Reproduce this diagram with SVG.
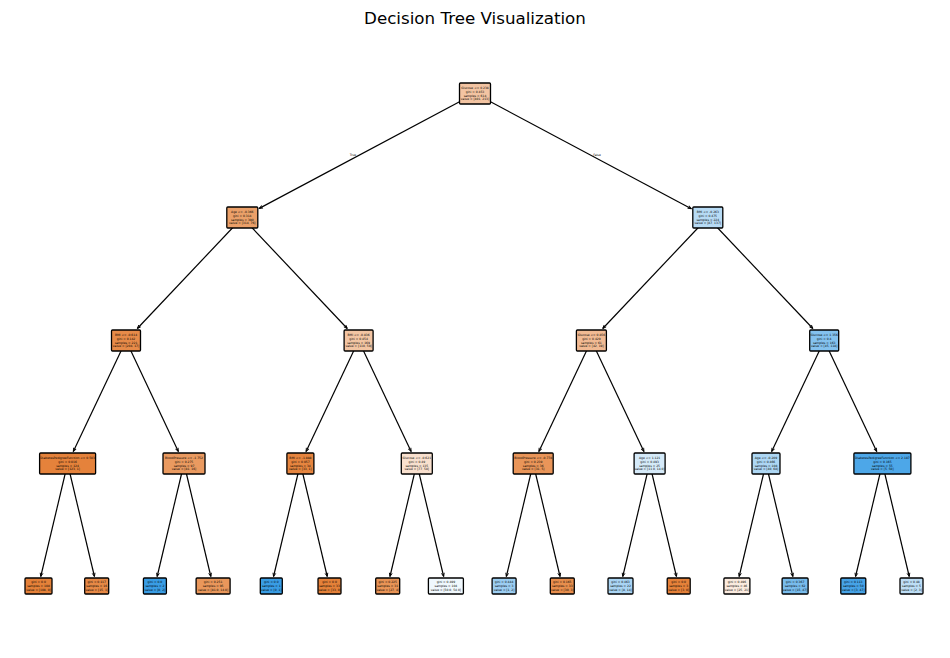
<svg xmlns="http://www.w3.org/2000/svg" width="950" height="658" viewBox="0 0 950 658">
<defs>
<marker id="ah" markerUnits="userSpaceOnUse" markerWidth="8" markerHeight="6" refX="0" refY="0" viewBox="-5 -3 6 6" orient="auto">
<path d="M-3.5,-1.4 L0,0 L-3.5,1.4" fill="none" stroke="#000" stroke-width="0.9"/>
</marker>
</defs>
<style>
.bg{fill:#ffffff}
.title{font-family:"DejaVu Sans","Liberation Sans",sans-serif;font-size:16.7px;fill:#000;text-anchor:middle}
.edge{stroke:#000;stroke-width:1.2;fill:none;marker-end:url(#ah)}
.box{stroke:#000;stroke-width:1.3}
.t{font-family:"DejaVu Sans","Liberation Sans",sans-serif;font-size:3px;fill:#000;text-anchor:middle}
.lbl{font-family:"DejaVu Sans","Liberation Sans",sans-serif;font-size:3px;fill:#000;text-anchor:middle}
</style>
<rect class="bg" x="0" y="0" width="950" height="658"/>
<text class="title" x="475" y="24">Decision Tree Visualization</text>

<g id="connectors">
<line class="edge" x1="475" y1="93.5" x2="259.3" y2="208.4"/>
<line class="edge" x1="475" y1="93.5" x2="691.3" y2="208.7"/>
<line class="edge" x1="242.3" y1="217.5" x2="137.35" y2="328.5"/>
<line class="edge" x1="242.3" y1="217.5" x2="347.25" y2="328.5"/>
<line class="edge" x1="707.8" y1="217.5" x2="602.76" y2="328.5"/>
<line class="edge" x1="707.8" y1="217.5" x2="812.84" y2="328.5"/>
<line class="edge" x1="126" y1="340.5" x2="73.3" y2="451.5"/>
<line class="edge" x1="126" y1="340.5" x2="178.34" y2="451.5"/>
<line class="edge" x1="358.6" y1="340.5" x2="306.08" y2="451.5"/>
<line class="edge" x1="358.6" y1="340.5" x2="411.12" y2="451.5"/>
<line class="edge" x1="591.4" y1="340.5" x2="538.88" y2="451.5"/>
<line class="edge" x1="591.4" y1="340.5" x2="643.92" y2="451.5"/>
<line class="edge" x1="824.2" y1="340.5" x2="771.68" y2="451.5"/>
<line class="edge" x1="824.2" y1="340.5" x2="876.72" y2="451.5"/>
<line class="edge" x1="67.6" y1="463.5" x2="40.76" y2="576.5"/>
<line class="edge" x1="67.6" y1="463.5" x2="94.44" y2="576.5"/>
<line class="edge" x1="184" y1="463.5" x2="157.16" y2="576.5"/>
<line class="edge" x1="184" y1="463.5" x2="210.84" y2="576.5"/>
<line class="edge" x1="300.4" y1="463.5" x2="273.56" y2="576.5"/>
<line class="edge" x1="300.4" y1="463.5" x2="327.24" y2="576.5"/>
<line class="edge" x1="416.8" y1="463.5" x2="389.96" y2="576.5"/>
<line class="edge" x1="416.8" y1="463.5" x2="443.64" y2="576.5"/>
<line class="edge" x1="533.2" y1="463.5" x2="506.36" y2="576.5"/>
<line class="edge" x1="533.2" y1="463.5" x2="560.04" y2="576.5"/>
<line class="edge" x1="649.6" y1="463.5" x2="622.76" y2="576.5"/>
<line class="edge" x1="649.6" y1="463.5" x2="676.44" y2="576.5"/>
<line class="edge" x1="766" y1="463.5" x2="739.16" y2="576.5"/>
<line class="edge" x1="766" y1="463.5" x2="792.84" y2="576.5"/>
<line class="edge" x1="882.4" y1="463.5" x2="855.56" y2="576.5"/>
<line class="edge" x1="882.4" y1="463.5" x2="909.24" y2="576.5"/>
<text class="lbl" x="353" y="155.5">True</text>
<text class="lbl" x="597" y="156">False</text>
</g>

<g id="node0"><rect class="box" x="459.5" y="83" width="31" height="21" rx="1" fill="#f3c4a2"/>
<text class="t" x="475" y="88.75"><tspan x="475">Glucose &lt;= 0.238</tspan><tspan x="475" dy="3.9">gini = 0.453</tspan><tspan x="475" dy="3.9">samples = 614</tspan><tspan x="475" dy="3.9">value = [401, 213]</tspan></text></g>

<g id="node1"><rect class="box" x="226.8" y="207" width="31" height="21" rx="1" fill="#eba069"/>
<text class="t" x="242.3" y="212.75"><tspan x="242.3">Age &lt;= -0.366</tspan><tspan x="242.3" dy="3.9">gini = 0.314</tspan><tspan x="242.3" dy="3.9">samples = 390</tspan><tspan x="242.3" dy="3.9">value = [314, 76]</tspan></text></g>

<g id="node2"><rect class="box" x="692.8" y="207" width="30" height="21" rx="1" fill="#b7dbf5"/>
<text class="t" x="707.8" y="212.75"><tspan x="707.8">BMI &lt;= -0.263</tspan><tspan x="707.8" dy="3.9">gini = 0.475</tspan><tspan x="707.8" dy="3.9">samples = 224</tspan><tspan x="707.8" dy="3.9">value = [87, 137]</tspan></text></g>

<g id="node3"><rect class="box" x="111.5" y="330" width="29" height="21" rx="1" fill="#e78b49"/>
<text class="t" x="126" y="335.75"><tspan x="126">BMI &lt;= -0.614</tspan><tspan x="126" dy="3.9">gini = 0.142</tspan><tspan x="126" dy="3.9">samples = 221</tspan><tspan x="126" dy="3.9">value = [204, 17]</tspan></text></g>

<g id="node4"><rect class="box" x="344.1" y="330" width="29" height="21" rx="1" fill="#f3c5a3"/>
<text class="t" x="358.6" y="335.75"><tspan x="358.6">BMI &lt;= -0.836</tspan><tspan x="358.6" dy="3.9">gini = 0.454</tspan><tspan x="358.6" dy="3.9">samples = 169</tspan><tspan x="358.6" dy="3.9">value = [110, 59]</tspan></text></g>

<g id="node5"><rect class="box" x="576.4" y="330" width="30" height="21" rx="1" fill="#f1ba93"/>
<text class="t" x="591.4" y="335.75"><tspan x="591.4">Glucose &lt;= 0.856</tspan><tspan x="591.4" dy="3.9">gini = 0.429</tspan><tspan x="591.4" dy="3.9">samples = 61</tspan><tspan x="591.4" dy="3.9">value = [42, 19]</tspan></text></g>

<g id="node6"><rect class="box" x="809.7" y="330" width="29" height="21" rx="1" fill="#84c2ef"/>
<text class="t" x="824.2" y="335.75"><tspan x="824.2">Glucose &lt;= 1.356</tspan><tspan x="824.2" dy="3.9">gini = 0.4</tspan><tspan x="824.2" dy="3.9">samples = 163</tspan><tspan x="824.2" dy="3.9">value = [45, 118]</tspan></text></g>

<g id="node7"><rect class="box" x="39.6" y="453" width="56" height="21" rx="1" fill="#e5823b"/>
<text class="t" x="67.6" y="458.75"><tspan x="67.6">DiabetesPedigreeFunction &lt;= 0.503</tspan><tspan x="67.6" dy="3.9">gini = 0.016</tspan><tspan x="67.6" dy="3.9">samples = 124</tspan><tspan x="67.6" dy="3.9">value = [123, 1]</tspan></text></g>

<g id="node8"><rect class="box" x="163" y="453" width="42" height="21" rx="1" fill="#ea9a60"/>
<text class="t" x="184" y="458.75"><tspan x="184">BloodPressure &lt;= -1.752</tspan><tspan x="184" dy="3.9">gini = 0.275</tspan><tspan x="184" dy="3.9">samples = 97</tspan><tspan x="184" dy="3.9">value = [81, 16]</tspan></text></g>

<g id="node9"><rect class="box" x="286.9" y="453" width="27" height="21" rx="1" fill="#e6853f"/>
<text class="t" x="300.4" y="458.75"><tspan x="300.4">BMI &lt;= -1.888</tspan><tspan x="300.4" dy="3.9">gini = 0.057</tspan><tspan x="300.4" dy="3.9">samples = 34</tspan><tspan x="300.4" dy="3.9">value = [33, 1]</tspan></text></g>

<g id="node10"><rect class="box" x="401.3" y="453" width="31" height="21" rx="1" fill="#f9e0ce"/>
<text class="t" x="416.8" y="458.75"><tspan x="416.8">Glucose &lt;= -0.621</tspan><tspan x="416.8" dy="3.9">gini = 0.49</tspan><tspan x="416.8" dy="3.9">samples = 135</tspan><tspan x="416.8" dy="3.9">value = [77, 58]</tspan></text></g>

<g id="node11"><rect class="box" x="513.2" y="453" width="40" height="21" rx="1" fill="#e99559"/>
<text class="t" x="533.2" y="458.75"><tspan x="533.2">BloodPressure &lt;= -0.778</tspan><tspan x="533.2" dy="3.9">gini = 0.239</tspan><tspan x="533.2" dy="3.9">samples = 36</tspan><tspan x="533.2" dy="3.9">value = [31, 5]</tspan></text></g>

<g id="node12"><rect class="box" x="634.1" y="453" width="31" height="21" rx="1" fill="#d5eaf9"/>
<text class="t" x="649.6" y="458.75"><tspan x="649.6">Age &lt;= 1.121</tspan><tspan x="649.6" dy="3.9">gini = 0.493</tspan><tspan x="649.6" dy="3.9">samples = 25</tspan><tspan x="649.6" dy="3.9">value = [11.0, 14.0]</tspan></text></g>

<g id="node13"><rect class="box" x="752" y="453" width="28" height="21" rx="1" fill="#add7f4"/>
<text class="t" x="766" y="458.75"><tspan x="766">Age &lt;= -0.209</tspan><tspan x="766" dy="3.9">gini = 0.466</tspan><tspan x="766" dy="3.9">samples = 108</tspan><tspan x="766" dy="3.9">value = [40, 68]</tspan></text></g>

<g id="node14"><rect class="box" x="853.9" y="453" width="57" height="21" rx="1" fill="#4da7e8"/>
<text class="t" x="882.4" y="458.75"><tspan x="882.4">DiabetesPedigreeFunction &lt;= 2.187</tspan><tspan x="882.4" dy="3.9">gini = 0.165</tspan><tspan x="882.4" dy="3.9">samples = 55</tspan><tspan x="882.4" dy="3.9">value = [5, 50]</tspan></text></g>

<g id="leaf0"><rect class="box" x="25" y="578" width="27" height="16" rx="1" fill="#e58139"/>
<text class="t" x="38.5" y="583.2"><tspan x="38.5">gini = 0.0</tspan><tspan x="38.5" dy="3.9">samples = 108</tspan><tspan x="38.5" dy="3.9">value = [108, 0]</tspan></text></g>

<g id="leaf1"><rect class="box" x="84.7" y="578" width="24" height="16" rx="1" fill="#e78946"/>
<text class="t" x="96.7" y="583.2"><tspan x="96.7">gini = 0.117</tspan><tspan x="96.7" dy="3.9">samples = 16</tspan><tspan x="96.7" dy="3.9">value = [15, 1]</tspan></text></g>

<g id="leaf2"><rect class="box" x="143.4" y="578" width="23" height="16" rx="1" fill="#399de5"/>
<text class="t" x="154.9" y="583.2"><tspan x="154.9">gini = 0.0</tspan><tspan x="154.9" dy="3.9">samples = 2</tspan><tspan x="154.9" dy="3.9">value = [0, 2]</tspan></text></g>

<g id="leaf3"><rect class="box" x="196.1" y="578" width="34" height="16" rx="1" fill="#e9975b"/>
<text class="t" x="213.1" y="583.2"><tspan x="213.1">gini = 0.251</tspan><tspan x="213.1" dy="3.9">samples = 95</tspan><tspan x="213.1" dy="3.9">value = [81.0, 14.0]</tspan></text></g>

<g id="leaf4"><rect class="box" x="260.3" y="578" width="22" height="16" rx="1" fill="#399de5"/>
<text class="t" x="271.3" y="583.2"><tspan x="271.3">gini = 0.0</tspan><tspan x="271.3" dy="3.9">samples = 1</tspan><tspan x="271.3" dy="3.9">value = [0, 1]</tspan></text></g>

<g id="leaf5"><rect class="box" x="318" y="578" width="23" height="16" rx="1" fill="#e58139"/>
<text class="t" x="329.5" y="583.2"><tspan x="329.5">gini = 0.0</tspan><tspan x="329.5" dy="3.9">samples = 33</tspan><tspan x="329.5" dy="3.9">value = [33, 0]</tspan></text></g>

<g id="leaf6"><rect class="box" x="375.7" y="578" width="24" height="16" rx="1" fill="#e99456"/>
<text class="t" x="387.7" y="583.2"><tspan x="387.7">gini = 0.225</tspan><tspan x="387.7" dy="3.9">samples = 31</tspan><tspan x="387.7" dy="3.9">value = [27, 4]</tspan></text></g>

<g id="leaf7"><rect class="box" x="428.4" y="578" width="35" height="16" rx="1" fill="#f0f8fd"/>
<text class="t" x="445.9" y="583.2"><tspan x="445.9">gini = 0.499</tspan><tspan x="445.9" dy="3.9">samples = 104</tspan><tspan x="445.9" dy="3.9">value = [50.0, 54.0]</tspan></text></g>

<g id="leaf8"><rect class="box" x="492.1" y="578" width="24" height="16" rx="1" fill="#9ccef2"/>
<text class="t" x="504.1" y="583.2"><tspan x="504.1">gini = 0.444</tspan><tspan x="504.1" dy="3.9">samples = 3</tspan><tspan x="504.1" dy="3.9">value = [1, 2]</tspan></text></g>

<g id="leaf9"><rect class="box" x="550.3" y="578" width="24" height="16" rx="1" fill="#e88e4d"/>
<text class="t" x="562.3" y="583.2"><tspan x="562.3">gini = 0.165</tspan><tspan x="562.3" dy="3.9">samples = 33</tspan><tspan x="562.3" dy="3.9">value = [30, 3]</tspan></text></g>

<g id="leaf10"><rect class="box" x="608" y="578" width="25" height="16" rx="1" fill="#aad5f4"/>
<text class="t" x="620.5" y="583.2"><tspan x="620.5">gini = 0.463</tspan><tspan x="620.5" dy="3.9">samples = 22</tspan><tspan x="620.5" dy="3.9">value = [8, 14]</tspan></text></g>

<g id="leaf11"><rect class="box" x="667.2" y="578" width="23" height="16" rx="1" fill="#e58139"/>
<text class="t" x="678.7" y="583.2"><tspan x="678.7">gini = 0.0</tspan><tspan x="678.7" dy="3.9">samples = 3</tspan><tspan x="678.7" dy="3.9">value = [3, 0]</tspan></text></g>

<g id="leaf12"><rect class="box" x="723.9" y="578" width="26" height="16" rx="1" fill="#fbebdf"/>
<text class="t" x="736.9" y="583.2"><tspan x="736.9">gini = 0.496</tspan><tspan x="736.9" dy="3.9">samples = 46</tspan><tspan x="736.9" dy="3.9">value = [25, 21]</tspan></text></g>

<g id="leaf13"><rect class="box" x="782.1" y="578" width="26" height="16" rx="1" fill="#78bced"/>
<text class="t" x="795.1" y="583.2"><tspan x="795.1">gini = 0.367</tspan><tspan x="795.1" dy="3.9">samples = 62</tspan><tspan x="795.1" dy="3.9">value = [15, 47]</tspan></text></g>

<g id="leaf14"><rect class="box" x="840.8" y="578" width="25" height="16" rx="1" fill="#46a3e7"/>
<text class="t" x="853.3" y="583.2"><tspan x="853.3">gini = 0.113</tspan><tspan x="853.3" dy="3.9">samples = 50</tspan><tspan x="853.3" dy="3.9">value = [3, 47]</tspan></text></g>

<g id="leaf15"><rect class="box" x="900" y="578" width="23" height="16" rx="1" fill="#bddef6"/>
<text class="t" x="911.5" y="583.2"><tspan x="911.5">gini = 0.48</tspan><tspan x="911.5" dy="3.9">samples = 5</tspan><tspan x="911.5" dy="3.9">value = [2, 3]</tspan></text></g>
</svg>
